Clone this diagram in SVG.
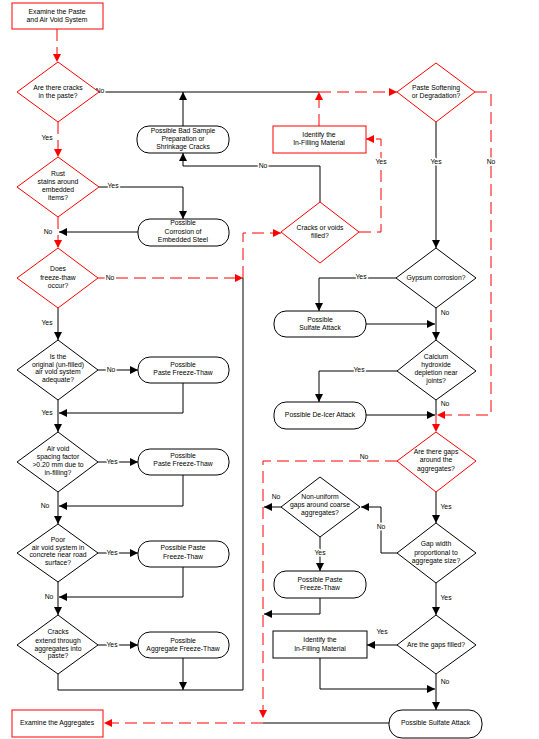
<svg xmlns="http://www.w3.org/2000/svg" width="539" height="739" viewBox="0 0 539 739">
<style>
text{font-family:"Liberation Sans",Arial,sans-serif;font-size:6.8px;fill:#000;text-anchor:middle}
.h{paint-order:stroke;stroke:#fff;stroke-width:3px;stroke-linejoin:round}
.rn{fill:#fff;stroke:#f00;stroke-width:1}
.bn{fill:#fff;stroke:#000;stroke-width:1}
.lb{fill:none;stroke:#000;stroke-width:1}
.lr{fill:none;stroke:#f00;stroke-width:1;stroke-dasharray:12 6}
.ab{marker-end:url(#ab)}
.ar{marker-end:url(#ar)}
</style>
<defs>
<marker id="ab" markerUnits="userSpaceOnUse" markerWidth="9" markerHeight="8" refX="8" refY="4" orient="auto"><path d="M0,0 L8,4 L0,8 z" fill="#000"/></marker>
<marker id="ar" markerUnits="userSpaceOnUse" markerWidth="9" markerHeight="8" refX="8" refY="4" orient="auto"><path d="M0,0 L8,4 L0,8 z" fill="#f00"/></marker>
</defs>
<rect width="539" height="739" fill="#fff"/>
<g id="connectors">
<path class="lr ar" d="M57,29 V62"/>
<path class="lb" d="M99,92 H319"/>
<path class="lr ar" d="M319,92 H397"/>
<path class="lr ar" d="M58,122 V157"/>
<path class="lb ab" d="M99,187 H183 V219"/>
<path class="lb ab" d="M138,232 H59"/>
<path class="lr ar" d="M58,217 V248"/>
<path class="lr ar" d="M98,278 H243"/>
<path class="lb" d="M58,674 V690 H243 V278"/>
<path class="lr ar" d="M243,278 V233 H281"/>
<path class="lb ab" d="M58,308 V340"/>
<path class="lb ab" d="M98,370 H138"/>
<path class="lb ab" d="M183,383 V413 H59"/>
<path class="lb ab" d="M58,400 V432"/>
<path class="lb ab" d="M98,462 H138"/>
<path class="lb ab" d="M183,475 V506 H59"/>
<path class="lb ab" d="M58,492 V524"/>
<path class="lb ab" d="M98,553 H138"/>
<path class="lb ab" d="M183,567 V597 H59"/>
<path class="lb ab" d="M58,582 V615"/>
<path class="lb ab" d="M98,645 H138"/>
<path class="lb ab" d="M183,658 V690"/>
<path class="lb ab" d="M320,202 V166 H183 V153"/>
<path class="lb ab" d="M183,126 V92"/>
<path class="lr ar" d="M319,126 V92"/>
<path class="lr ar" d="M359,232 H381 V139 H366"/>
<path class="lr ar" d="M475,92 H491 V415 H437"/>
<path class="lb ab" d="M436,122 V248"/>
<path class="lb ab" d="M396,278 H319 V311"/>
<path class="lb ab" d="M366,324 H435"/>
<path class="lb ab" d="M436,308 V340"/>
<path class="lb ab" d="M397,371 H319 V402"/>
<path class="lb ab" d="M366,415 H435"/>
<path class="lb" d="M436,400 V415"/>
<path class="lr ar" d="M436,415 V432"/>
<path class="lr ar" d="M397,461 H263 V718"/>
<path class="lb ab" d="M436,492 V523"/>
<path class="lb ab" d="M397,553 H381 V507 H361"/>
<path class="lb ab" d="M281,507 H264"/>
<path class="lb ab" d="M320,537 V571"/>
<path class="lb ab" d="M320,598 V614 H264"/>
<path class="lb ab" d="M436,583 V615"/>
<path class="lb ab" d="M397,645 H367"/>
<path class="lb ab" d="M320,658 V689 H435"/>
<path class="lb ab" d="M436,674 V710"/>
<path class="lb" d="M389,723 H263"/>
<path class="lr ar" d="M263,723 H104"/>
<text class="h" x="100" y="93.4">No</text>
<text x="47" y="140.4">Yes</text>
<text class="h" x="113" y="188.4">Yes</text>
<text x="48" y="234.4">No</text>
<text class="h" x="110" y="280.4">No</text>
<text x="47" y="325.4">Yes</text>
<text class="h" x="111" y="372.4">No</text>
<text x="47" y="415.4">Yes</text>
<text class="h" x="112" y="464.4">Yes</text>
<text x="45" y="508.4">No</text>
<text class="h" x="112" y="555.4">Yes</text>
<text x="49" y="599.4">No</text>
<text class="h" x="112" y="647.4">Yes</text>
<text class="h" x="263" y="168.4">No</text>
<text class="h" x="381" y="164.4">Yes</text>
<text class="h" x="491" y="164.4">No</text>
<text class="h" x="436" y="164.4">Yes</text>
<text class="h" x="361" y="279.4">Yes</text>
<text x="445" y="315.4">No</text>
<text class="h" x="359" y="372.4">Yes</text>
<text x="445" y="406.4">No</text>
<text class="h" x="364" y="459.4">No</text>
<text x="446" y="509.4">Yes</text>
<text class="h" x="381" y="529.4">No</text>
<text x="276" y="499.4">No</text>
<text class="h" x="320" y="555.4">Yes</text>
<text x="446" y="600.4">Yes</text>
<text x="382" y="634.4">Yes</text>
<text x="445" y="684.4">No</text>
</g>
<g id="n-start"><rect class="rn" x="12" y="3" width="91" height="26"/><text x="57" y="14.4">Examine the Paste</text><text x="57" y="22.4">and Air Void System</text></g>
<g id="d-cracks"><path class="rn" d="M58,62 L99,92 L58,122 L17,92 z"/><text x="58" y="90.4">Are there cracks</text><text x="58" y="98.4">in the paste?</text></g>
<g id="d-rust"><path class="rn" d="M58,157 L99,187 L58,217 L17,187 z"/><text x="58" y="176.4">Rust</text><text x="58" y="184.4">stains around</text><text x="58" y="192.4">embedded</text><text x="58" y="200.4">items?</text></g>
<g id="t-badsample"><rect class="bn" x="137" y="126" width="92" height="27" rx="12"/><text x="183" y="132.9">Possible Bad Sample</text><text x="183" y="140.9">Preparation or</text><text x="183" y="149.4">Shrinkage Cracks</text></g>
<g id="t-corrosion"><rect class="bn" x="138" y="219" width="91" height="27" rx="12"/><text x="183" y="225.4">Possible</text><text x="183" y="234.4">Corrosion of</text><text x="183" y="241.9">Embedded Steel</text></g>
<g id="d-freeze"><path class="rn" d="M58,248 L98,278 L58,308 L17,278 z"/><text x="58" y="271.4">Does</text><text x="58" y="280.4">freeze-thaw</text><text x="58" y="288.4">occur?</text></g>
<g id="d-original"><path class="bn" d="M58,340 L98,370 L58,400 L17,370 z"/><text x="58" y="359.4">Is the</text><text x="58" y="366.9">original (un-filled)</text><text x="58" y="374.4">air void system</text><text x="58" y="382.4">adequate?</text></g>
<g id="t-pft1"><rect class="bn" x="138" y="357" width="91" height="26" rx="12"/><text x="183" y="367.4">Possible</text><text x="183" y="375.4">Paste Freeze-Thaw</text></g>
<g id="d-spacing"><path class="bn" d="M58,432 L98,462 L58,492 L17,462 z"/><text x="58" y="451.4">Air void</text><text x="58" y="459.4">spacing factor</text><text x="58" y="467.4">&gt;0.20 mm due to</text><text x="58" y="475.4">in-filling?</text></g>
<g id="t-pft2"><rect class="bn" x="138" y="449" width="91" height="26" rx="12"/><text x="183" y="458.4">Possible</text><text x="183" y="466.4">Paste Freeze-Thaw</text></g>
<g id="d-poor"><path class="bn" d="M58,524 L98,553 L58,582 L17,553 z"/><text x="58" y="542.4">Poor</text><text x="58" y="549.9">air void system in</text><text x="58" y="557.4">concrete near road</text><text x="58" y="565.4">surface?</text></g>
<g id="t-pft3"><rect class="bn" x="138" y="541" width="91" height="26" rx="12"/><text x="183" y="550.4">Possible Paste</text><text x="183" y="559.4">Freeze-Thaw</text></g>
<g id="d-extend"><path class="bn" d="M58,615 L98,645 L58,674 L17,645 z"/><text x="58" y="634.4">Cracks</text><text x="58" y="643.4">extend through</text><text x="58" y="650.9">aggregates into</text><text x="58" y="658.4">paste?</text></g>
<g id="t-aft"><rect class="bn" x="138" y="632" width="91" height="26" rx="12"/><text x="183" y="643.4">Possible</text><text x="183" y="651.4">Aggregate Freeze-Thaw</text></g>
<g id="n-aggregates"><rect class="rn" x="12" y="710" width="91" height="27"/><text x="57" y="725.4">Examine the Aggregates</text></g>
<g id="d-softening"><path class="rn" d="M436,63 L475,92 L436,122 L397,92 z"/><text x="436" y="90.4">Paste Softening</text><text x="436" y="98.4">or Degradation?</text></g>
<g id="n-identify1"><rect class="rn" x="273" y="126" width="93" height="27"/><text x="319" y="136.9">Identify the</text><text x="319" y="145.4">In-Filling Material</text></g>
<g id="d-voids"><path class="rn" d="M320,202 L359,232 L320,263 L281,232 z"/><text x="320" y="230.4">Cracks or voids</text><text x="320" y="238.4">filled?</text></g>
<g id="d-gypsum"><path class="bn" d="M436,248 L476,278 L436,308 L396,278 z"/><text x="436" y="280.4">Gypsum corrosion?</text></g>
<g id="t-sulfate1"><rect class="bn" x="274" y="311" width="92" height="26" rx="12"/><text x="320" y="322.4">Possible</text><text x="320" y="330.4">Sulfate Attack</text></g>
<g id="d-calcium"><path class="bn" d="M436,340 L476,371 L436,400 L397,371 z"/><text x="436" y="359.4">Calcium</text><text x="436" y="367.4">hydroxide</text><text x="436" y="375.4">depletion near</text><text x="436" y="383.4">joints?</text></g>
<g id="t-deicer"><rect class="bn" x="274" y="402" width="92" height="27" rx="12"/><text x="320" y="417.4">Possible De-Icer Attack</text></g>
<g id="d-gaps"><path class="rn" d="M436,432 L476,461 L436,492 L397,461 z"/><text x="436" y="454.4">Are there gaps</text><text x="436" y="462.4">around the</text><text x="436" y="471.4">aggregates?</text></g>
<g id="d-gapwidth"><path class="bn" d="M436,523 L476,553 L436,583 L397,553 z"/><text x="436" y="546.4">Gap width</text><text x="436" y="555.4">proportional to</text><text x="436" y="563.4">aggregate size?</text></g>
<g id="d-nonuniform"><path class="bn" d="M320,477 L360,507 L320,537 L281,507 z"/><text x="320" y="499.4">Non-uniform</text><text x="320" y="507.4">gaps around coarse</text><text x="320" y="515.4">aggregates?</text></g>
<g id="t-pft4"><rect class="bn" x="274" y="571" width="92" height="27" rx="12"/><text x="320" y="582.4">Possible Paste</text><text x="320" y="590.4">Freeze-Thaw</text></g>
<g id="d-gapsfilled"><path class="bn" d="M436,615 L476,645 L436,674 L397,645 z"/><text x="436" y="647.4">Are the gaps filled?</text></g>
<g id="n-identify2"><rect class="bn" x="273" y="631" width="94" height="27"/><text x="320" y="642.4">Identify the</text><text x="320" y="651.4">In-Filling Material</text></g>
<g id="t-sulfate2"><rect class="bn" x="389" y="710" width="93" height="28" rx="13"/><text x="435.5" y="725.4">Possible Sulfate Attack</text></g>
</svg>
